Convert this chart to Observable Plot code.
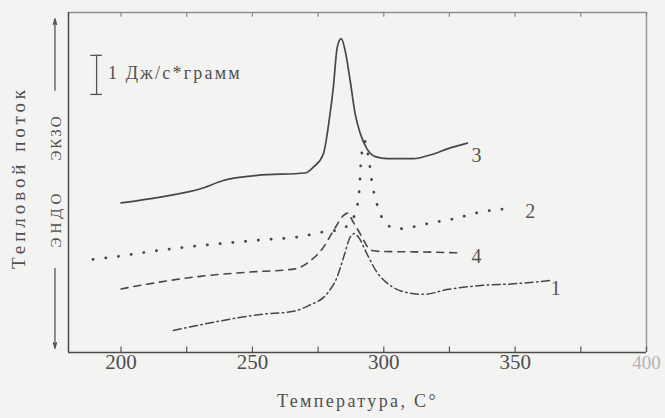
<!DOCTYPE html>
<html>
<head>
<meta charset="utf-8">
<script src="https://cdn.jsdelivr.net/npm/d3@7"></script>
<script src="https://cdn.jsdelivr.net/npm/@observablehq/plot@0.6"></script>
<style>
  html, body { margin: 0; padding: 0; background: #f3f3f1; }
  #chart svg { display: block; }
</style>
</head>
<body>
<div id="chart"></div>
<script>
// ---- data (temperature, °C ; heat flow, arbitrary J/(s·g) offsets) ----
const temp1 = [219.9, 235.2, 253.0, 265.6, 271.4, 278.4, 282.2, 284.7, 287.2, 288.8, 290.4, 293.6, 297.4, 302.5, 311.4, 315.2, 324.1, 336.8, 349.5, 363.8];
const flow1 = [0.65, 0.89, 1.12, 1.21, 1.38, 1.73, 2.21, 2.80, 3.39, 3.50, 3.39, 2.90, 2.36, 1.97, 1.73, 1.71, 1.85, 1.97, 2.02, 2.12];

const temp2 = [189.3, 195.0, 216.0, 221.3, 253.0, 268.2, 278.9, 283.4, 289.2, 290.1, 290.9, 291.2, 291.8, 292.8, 293.7, 294.5, 295.4, 297.3, 298.7, 300.6, 305.5, 310.9, 316.6, 326.5, 336.8, 347.1];
const flow2 = [2.74, 2.79, 3.02, 3.07, 3.31, 3.41, 3.57, 3.61, 4.08, 4.40, 5.03, 5.50, 5.94, 6.21, 5.94, 5.59, 5.06, 4.39, 4.08, 3.79, 3.64, 3.69, 3.79, 3.93, 4.13, 4.23];

const temp3 = [200.0, 214.9, 231.2, 238.9, 251.8, 270.1, 273.2, 277.0, 279.2, 280.8, 282.3, 283.8, 285.3, 287.2, 289.1, 291.1, 293.6, 296.8, 301.3, 311.2, 318.9, 324.2, 331.8];
const flow3 = [4.40, 4.57, 4.84, 5.06, 5.21, 5.28, 5.45, 5.84, 6.82, 7.80, 8.98, 9.23, 8.88, 8.00, 7.02, 6.43, 5.99, 5.76, 5.70, 5.70, 5.84, 5.99, 6.16];

const temp4 = [200.0, 208.5, 230.1, 247.9, 266.3, 271.4, 277.1, 280.9, 284.7, 286.2, 288.4, 291.4, 293.7, 295.6, 299.3, 311.4, 329.2];
const flow4 = [1.87, 1.99, 2.24, 2.36, 2.46, 2.66, 3.10, 3.59, 4.03, 4.10, 3.83, 3.44, 3.12, 3.00, 2.97, 2.96, 2.93];

const curveNames = ["1", "2", "3", "4"];
const curveLabelT = [365.5, 355.8, 335.3, 335.3];
const curveLabelV = [1.87, 4.15, 5.79, 2.82];

const majorTicks = [200, 250, 300, 350];
const faintTicks = [400];
const allTicks = [200, 225, 250, 275, 300, 325, 350, 375, 400];

const xTitle = "Температура, С°";
const yTitle = "Тепловой поток";
const scaleText = "1 Дж/с*грамм";

// ---- build tables ----
const zip = (t, v) => t.map((d, i) => ({T: d, v: v[i]}));
const s1 = zip(temp1, flow1), s2 = zip(temp2, flow2), s3 = zip(temp3, flow3), s4 = zip(temp4, flow4);
const labels = curveNames.map((n, i) => ({n, T: curveLabelT[i], v: curveLabelV[i]}));

const ink = "#474747";
const textInk = "#505050";

const chart = Plot.plot({
  width: 665,
  height: 418,
  marginLeft: 68,
  marginRight: 19,
  marginTop: 12,
  marginBottom: 66,
  x: {domain: [180, 400], axis: null},
  y: {domain: [0, 10], axis: null},
  style: {background: "#f3f3f1", fontFamily: "'Liberation Serif', 'DejaVu Serif', serif", color: textInk, overflow: "visible"},
  marks: [
    // frame: top/right pale, left/bottom dark
    Plot.ruleY([10], {stroke: "#8e8e8e", strokeWidth: 1.3}),
    Plot.ruleX([400], {stroke: "#9a9a9a", strokeWidth: 1.5}),
    Plot.ruleX([180], {stroke: "#4a4a4a", strokeWidth: 1.5}),
    Plot.ruleY([0], {stroke: "#4a4a4a", strokeWidth: 1.5}),
    // inward ticks, bottom and top
    Plot.ruleX(allTicks, {y1: 0, y2: 0.16, stroke: "#555", strokeWidth: 1.2}),
    Plot.ruleX(allTicks, {y1: 10, y2: 9.86, stroke: "#888", strokeWidth: 1.2}),
    // tick labels
    Plot.text(majorTicks, {x: d => d, frameAnchor: "bottom", dy: 16, fontSize: 21, fill: "#4e4e4e"}),
    Plot.text(faintTicks, {x: d => d, frameAnchor: "bottom", dy: 16, fontSize: 19, fill: "#b5b5b5"}),
    // axis titles
    Plot.text([xTitle], {frameAnchor: "bottom", dy: 54, fontSize: 18, fill: textInk}),
    Plot.text([yTitle], {frameAnchor: "left", textAnchor: "middle", dx: -50, dy: -5, rotate: -90, fontSize: 19, fill: textInk}),
    Plot.text(["ЭКЗО"], {frameAnchor: "left", textAnchor: "middle", dx: -12, dy: -45, rotate: -90, fontSize: 15, fill: textInk}),
    Plot.text(["ЭНДО"], {frameAnchor: "left", textAnchor: "middle", dx: -12, dy: 36, rotate: -90, fontSize: 15, fill: textInk}),
    // endo / exo arrows
    Plot.arrow([{x1: 174.85, y1: 7.71, x2: 174.85, y2: 9.82}, {x1: 174.85, y1: 2.47, x2: 174.85, y2: 0.12}],
      {x1: "x1", y1: "y1", x2: "x2", y2: "y2", stroke: "#555", strokeWidth: 1.3, headLength: 7, headAngle: 30}),
    // scale bar
    Plot.ruleX([190.7], {y1: 7.59, y2: 8.74, stroke: "#555", strokeWidth: 1.3}),
    Plot.ruleY([7.59, 8.74], {x1: 188.5, x2: 192.9, stroke: "#555", strokeWidth: 1.3}),
    Plot.text([scaleText], {x: 195.0, y: 8.22, textAnchor: "start", fontSize: 18, fill: textInk}),
    // curves
    Plot.line(s1, {x: "T", y: "v", curve: "monotone-x", stroke: ink, strokeWidth: 1.5, strokeDasharray: "8,3.5,1.5,3.5"}),
    Plot.line(s2, {x: "T", y: "v", curve: "monotone-x", stroke: ink, strokeWidth: 2.7, strokeDasharray: "0.3,12.5", strokeLinecap: "round"}),
    Plot.line(s3, {x: "T", y: "v", curve: "monotone-x", stroke: ink, strokeWidth: 1.7}),
    Plot.line(s4, {x: "T", y: "v", curve: "monotone-x", stroke: ink, strokeWidth: 1.6, strokeDasharray: "7,6"}),
    // curve numbers
    Plot.text(labels, {x: "T", y: "v", text: "n", fontSize: 20, fill: "#555"})
  ]
});

document.getElementById("chart").appendChild(chart);

// widen letter spacing so the lettering matches the scanned widths
const widths = {[xTitle]: 161, [yTitle]: 183, [scaleText]: 134, "ЭКЗО": 46, "ЭНДО": 58};
d3.select(chart).selectAll("text").each(function () {
  const t = this.textContent;
  if (widths[t]) {
    const natural = this.getComputedTextLength();
    const n = [...t].length;
    const s = Math.max(0, (widths[t] - natural) / n);
    this.style.letterSpacing = s.toFixed(2) + "px";
  }
});
</script>
</body>
</html>
